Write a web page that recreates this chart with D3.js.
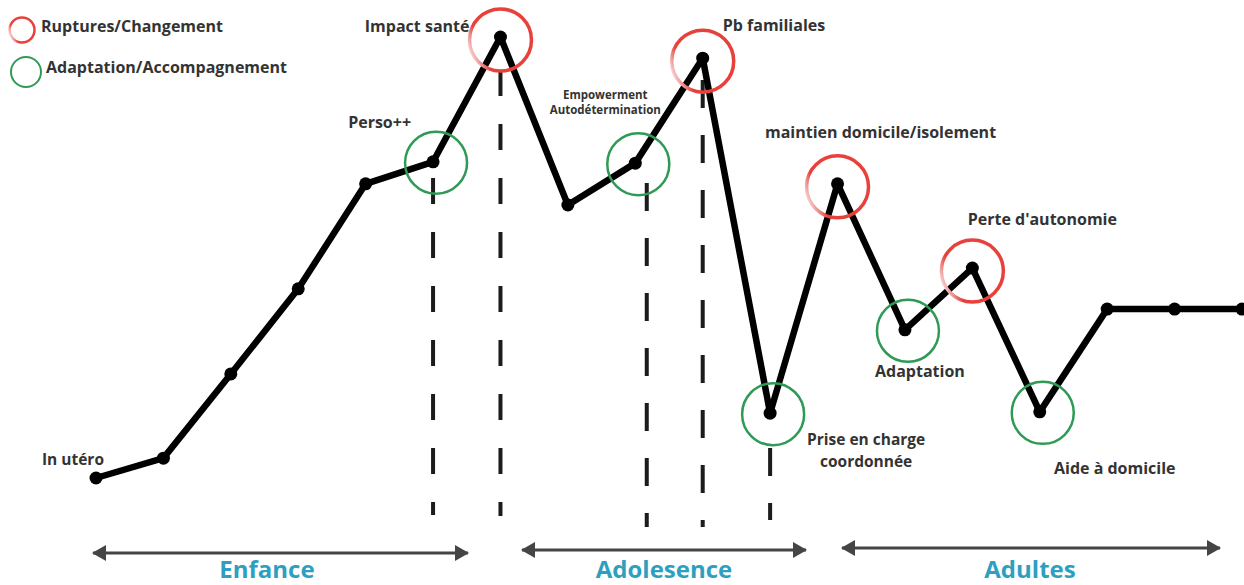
<!DOCTYPE html>
<html><head><meta charset="utf-8">
<script src="https://cdn.jsdelivr.net/npm/d3@7"></script>
<style>
html,body{margin:0;padding:0;background:#fff;}
svg{display:block;}
text{font-family:"Open Sans","DejaVu Sans",sans-serif;font-weight:700;}
</style></head>
<body>
<svg id="chart" width="1244" height="585"></svg>
<script>
// ---- data ----
const steps = d3.range(18);
const levels = [0, 4.5, 23.6, 42.9, 66.7, 71.7, 100, 61.9, 71.4, 95.2, 14.7, 66.7, 33.6, 47.6, 15.0, 38.3, 38.3, 38.3];
const ruptureIdx = [6, 9, 11, 13];
const adaptIdx = [5, 8, 10, 12, 14];
const pointLabels = [
  {i:0,  lines:["In utéro"]},
  {i:5,  lines:["Perso++"]},
  {i:6,  lines:["Impact santé"]},
  {i:8,  lines:["Empowerment","Autodétermination"]},
  {i:9,  lines:["Pb familiales"]},
  {i:10, lines:["Prise en charge","coordonnée"]},
  {i:11, lines:["maintien domicile/isolement"]},
  {i:12, lines:["Adaptation"]},
  {i:13, lines:["Perte d'autonomie"]},
  {i:14, lines:["Aide à domicile"]}
];
const markerSteps = [5, 6, 8.17, 9, 10];
const phases = ["Enfance", "Adolesence", "Adultes"];
const legendItems = ["Ruptures/Changement", "Adaptation/Accompagnement"];

// ---- layout ----
const svg = d3.select("#chart");
const x = d3.scaleLinear().domain([0, 17]).range([96, 1242]);
const y = d3.scaleLinear().domain([0, 100]).range([478, 37]);

const defs = svg.append("defs");
const g1 = defs.append("linearGradient").attr("id","redFade")
  .attr("x1",0).attr("y1",0.7).attr("x2",0.5).attr("y2",0.5);
g1.append("stop").attr("offset",0).attr("stop-color","#f6dcdc");
g1.append("stop").attr("offset",0.4).attr("stop-color","#e8403a");
g1.append("stop").attr("offset",1).attr("stop-color","#e8403a");

const arrowColor = "#454545";
defs.append("marker").attr("id","ah").attr("viewBox","0 0 14 16")
  .attr("refX",13).attr("refY",8).attr("markerWidth",14).attr("markerHeight",16)
  .attr("markerUnits","userSpaceOnUse").attr("orient","auto-start-reverse")
  .append("path").attr("d","M0,0 L14,8 L0,16 Z").attr("fill",arrowColor);

// dashed vertical markers
const dashLayout = [
  {y0:178, y1:515, da:"26,28"},
  {y0:70,  y1:516, da:"26,28"},
  {y0:183, y1:527, da:"28,27"},
  {y0:80,  y1:527, da:"28,27"},
  {y0:448, y1:520, da:"28,27"}
];
svg.append("g").selectAll("line").data(markerSteps).join("line")
  .attr("x1",(d)=>x(d)).attr("x2",(d)=>x(d))
  .attr("y1",(d,k)=>dashLayout[k].y0).attr("y2",(d,k)=>dashLayout[k].y1)
  .attr("stroke","#1c1c1c").attr("stroke-width",4)
  .attr("stroke-dasharray",(d,k)=>dashLayout[k].da);

// main line
const line = d3.line().x((d)=>x(d)).y((d)=>y(levels[d]));
svg.append("path").datum(steps).attr("d",line)
  .attr("fill","none").attr("stroke","#000").attr("stroke-width",6.5)
  .attr("stroke-linejoin","round").attr("stroke-linecap","round");

svg.append("g").selectAll("circle").data(steps).join("circle")
  .attr("cx",(d)=>x(d)).attr("cy",(d)=>y(levels[d])).attr("r",6.5).attr("fill","#000");

// highlight circles
svg.append("g").selectAll("circle").data(ruptureIdx).join("circle")
  .attr("cx",(d)=>x(d)).attr("cy",(d)=>y(levels[d])+3).attr("r",31)
  .attr("fill","none").attr("stroke","url(#redFade)").attr("stroke-width",3.5);
svg.append("g").selectAll("circle").data(adaptIdx).join("circle")
  .attr("cx",(d)=>x(d)+3).attr("cy",(d)=>y(levels[d])+1).attr("r",31)
  .attr("fill","none").attr("stroke","#2f9a55").attr("stroke-width",2.5);

// point labels
const labLayout = {
  0:{dx:8, dy:-13, anchor:"end", size:15.5, lh:0},
  5:{dx:-22, dy:-34, anchor:"end", size:16, lh:0},
  6:{dx:-31, dy:-5, anchor:"end", size:16, lh:0},
  8:{dx:-30, dy:-64, anchor:"middle", size:11.5, lh:15},
  9:{dx:20, dy:-27, anchor:"start", size:16, lh:0},
  10:{dx:96, dy:32, anchor:"middle", size:15.5, lh:22},
  11:{dx:43, dy:-46, anchor:"middle", size:16, lh:0},
  12:{dx:15, dy:47, anchor:"middle", size:16, lh:0},
  13:{dx:70, dy:-43, anchor:"middle", size:16, lh:0},
  14:{dx:75, dy:62, anchor:"middle", size:16, lh:0}
};
const lg = svg.append("g");
pointLabels.forEach((p)=>{
  const L = labLayout[p.i];
  const t = lg.append("text").attr("text-anchor",L.anchor)
    .attr("font-size",L.size).attr("fill","#333");
  p.lines.forEach((s,k)=>{
    t.append("tspan").attr("x",x(p.i)+L.dx).attr("y",y(levels[p.i])+L.dy+k*L.lh).text(s);
  });
});

// legend
const legLayout = [
  {cx:22, cy:30, r:12.5, tx:41, ty:32, stroke:"url(#redFade)", sw:2.5},
  {cx:26, cy:72, r:15, tx:46, ty:73, stroke:"#2f9a55", sw:2}
];
const leg = svg.append("g");
legendItems.forEach((s,k)=>{
  const L = legLayout[k];
  leg.append("circle").attr("cx",L.cx).attr("cy",L.cy).attr("r",L.r)
    .attr("fill","none").attr("stroke",L.stroke).attr("stroke-width",L.sw);
  leg.append("text").attr("x",L.tx).attr("y",L.ty).attr("font-size",16)
    .attr("fill","#333").text(s);
});

// phase arrows
const phaseLayout = [
  {x0:93, x1:468, ay:553, tx:267, size:24},
  {x0:522, x1:806, ay:550, tx:664, size:24},
  {x0:842, x1:1220, ay:548, tx:1030, size:24}
];
const ph = svg.append("g");
phases.forEach((s,k)=>{
  const L = phaseLayout[k];
  ph.append("line").attr("x1",L.x0).attr("x2",L.x1).attr("y1",L.ay).attr("y2",L.ay)
    .attr("stroke",arrowColor).attr("stroke-width",3)
    .attr("marker-start","url(#ah)").attr("marker-end","url(#ah)");
  ph.append("text").attr("x",L.tx).attr("y",578).attr("text-anchor","middle")
    .attr("font-size",L.size).attr("fill","#2e9fbf").text(s);
});
</script>
</body></html>
